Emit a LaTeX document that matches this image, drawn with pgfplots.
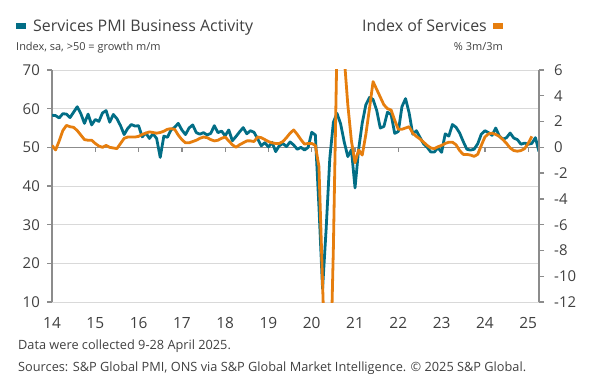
\documentclass[border=0pt]{standalone}
\usepackage{fontspec}
\setmainfont{Open Sans}
\usepackage{pgfplots}
\pgfplotsset{compat=1.18}
\usepackage{pgfplotstable}
\definecolor{pmiteal}{RGB}{2,110,134}
\definecolor{iosorange}{RGB}{230,126,14}
\definecolor{txtgray}{RGB}{64,64,64}
\definecolor{axgray}{RGB}{140,140,140}
\definecolor{gridgray}{RGB}{217,217,217}

% Services PMI Business Activity, Jan 2014 - Apr 2025 (monthly)
\pgfplotstableread{
pmi
58.3
58.2
57.6
58.7
58.6
57.7
59.1
60.5
58.7
56.2
58.6
55.8
57.2
56.7
58.9
59.5
56.5
58.5
57.4
55.6
53.3
54.9
55.9
55.5
55.6
52.7
53.7
52.3
53.5
52.3
47.4
52.9
52.6
54.5
55.2
56.2
54.5
53.3
55.0
55.8
53.8
53.4
53.8
53.2
53.6
55.6
53.8
54.2
53.0
54.5
51.7
52.8
54.0
55.1
53.5
54.3
53.9
52.2
50.4
51.2
50.1
51.3
48.9
50.4
51.0
50.2
51.4
50.6
49.5
50.0
49.3
50.0
53.9
53.2
34.5
13.4
29.0
47.1
56.5
58.8
56.1
51.4
47.6
49.4
39.5
49.5
56.3
61.0
62.9
62.4
59.6
55.0
55.4
59.1
58.5
53.6
54.1
60.5
62.6
58.9
53.4
54.3
52.6
50.9
50.0
48.8
48.8
49.9
48.7
53.5
52.9
55.9
55.2
53.7
51.5
49.5
49.3
49.5
50.9
53.4
54.3
53.8
53.1
55.0
52.9
52.1
52.5
53.7
52.4
52.0
50.8
51.1
50.8
51.0
52.5
48.9
}\pmidata

% Index of Services, % 3m/3m, Jan 2014 - Feb 2025 (monthly)
\pgfplotstableread{
ios
0.15
-0.2
0.5
1.3
1.7
1.6
1.55
1.3
0.95
0.6
0.55
0.55
0.3
0.1
0.0
0.15
0.0
-0.05
-0.1
0.3
0.7
0.8
0.8
0.8
0.85
1.0
1.1
1.2
1.15
1.1
1.15
1.25
1.4
1.45
1.4
0.95
0.6
0.35
0.35
0.45
0.55
0.7
0.8
0.75
0.6
0.5
0.55
0.7
0.8
0.5
0.2
0.0
0.2
0.35
0.5
0.5
0.45
0.8
0.75
0.6
0.45
0.35
0.3
0.3
0.45
0.75
1.1
1.35
1.0
0.6
0.25
0.3
0.3
0.15
-1.5
-10.5
-19.9
-19.6
-7.8
8.0
16.0
7.0
3.3
0.5
-1.2
-0.2
-0.6
1.0
3.0
5.1
4.5
3.9
3.3
3.0
2.9
2.1
1.4
1.4
1.5
1.6
1.1
0.85
0.65
0.4
0.15
-0.05
-0.1
0.05
0.15
0.3
0.4
0.4
0.2
-0.25
-0.55
-0.55
-0.6
-0.7
-0.55
0.15
0.8
1.05
1.1
1.0
0.85
0.6
0.3
-0.05
-0.25
-0.3
-0.25
-0.1
0.3
0.85
}\iosdata

\begin{document}
\begin{tikzpicture}[x=1bp,y=1bp]
\useasboundingbox (-52,-82) rectangle (548,302);

\begin{axis}[
  scale only axis, width=487bp, height=232bp,
  xmin=0, xmax=135, ymin=10, ymax=70,
  axis y line*=left, axis x line*=bottom,
  x axis line style={draw=none},
  y axis line style={draw=axgray, line width=1.3bp},
  xtick={0,12,24,36,48,60,72,84,96,108,120,132},
  xticklabels={14,15,16,17,18,19,20,21,22,23,24,25},
  xtick style={draw=none},
  ytick={10,20,30,40,50,60,70},
  ymajorgrids, grid style={gridgray, line width=1bp},
  tick align=outside, major tick length=5bp,
  ytick style={draw=axgray, line width=1.3bp},
  /pgf/number format/assume math mode=true,
  yticklabel style={font=\fontsize{15}{15}\selectfont, text=txtgray, inner sep=0pt, xshift=-7bp},
  xticklabel style={font=\fontsize{15.5}{15.5}\selectfont, text=txtgray, inner sep=0pt, yshift=-10bp},
]
\draw[axgray, line width=1.3bp] (axis cs:0,50) -- (axis cs:135,50);
\pgfplotsinvokeforeach{12,24,36,48,60,72,84,96,108,120,132}{
  \draw[axgray, line width=1.3bp] (axis cs:#1,50) -- ++(0bp,-5bp);
}
\addplot[pmiteal, line width=2.8bp, line join=round, no markers] table[x expr=\coordindex, y=pmi] {\pmidata};
\end{axis}

\begin{axis}[
  scale only axis, width=487bp, height=232bp,
  xmin=0, xmax=135, ymin=-12, ymax=6,
  axis y line*=right, axis x line=none,
  y axis line style={draw=axgray, line width=1.3bp},
  ytick={-12,-10,-8,-6,-4,-2,0,2,4,6},
  tick align=outside, major tick length=5bp,
  ytick style={draw=axgray, line width=1.3bp},
  /pgf/number format/assume math mode=true,
  yticklabel style={font=\fontsize{15}{15}\selectfont, text=txtgray, inner sep=0pt, anchor=west, xshift=10bp},
]
\addplot[iosorange, line width=2.8bp, line join=round, no markers] table[x expr=\coordindex, y=ios] {\iosdata};
\end{axis}

% headers
\fill[pmiteal] (-36,272.7) rectangle (-26.3,279.3);
\node[anchor=base west, inner sep=0pt, text=txtgray, font=\fontsize{16}{18}\selectfont] at (-19,270.5) {Services PMI Business Activity};
\node[anchor=base west, inner sep=0pt, text=txtgray, font=\fontsize{11}{14}\selectfont] at (-36,251.7) {Index, sa, >50 = growth m/m};
\fill[iosorange] (441,272.7) rectangle (451,279.3);
\node[anchor=base east, inner sep=0pt, text=txtgray, font=\fontsize{16}{18}\selectfont] at (435,270.5) {Index of Services};
\node[anchor=base east, inner sep=0pt, text=txtgray, font=\fontsize{11}{14}\selectfont] at (451,251.7) {\% 3m/3m};
% footer
\node[anchor=base west, inner sep=0pt, text=txtgray, font=\fontsize{12.8}{15}\selectfont] at (-34,-47.5) {Data were collected 9-28 April 2025.};
\node[anchor=base west, inner sep=0pt, text=txtgray, font=\fontsize{12.8}{15}\selectfont] at (-34,-69) {Sources: S\&P Global PMI, ONS via S\&P Global Market Intelligence. © 2025 S\&P Global.};
\end{tikzpicture}
\end{document}
